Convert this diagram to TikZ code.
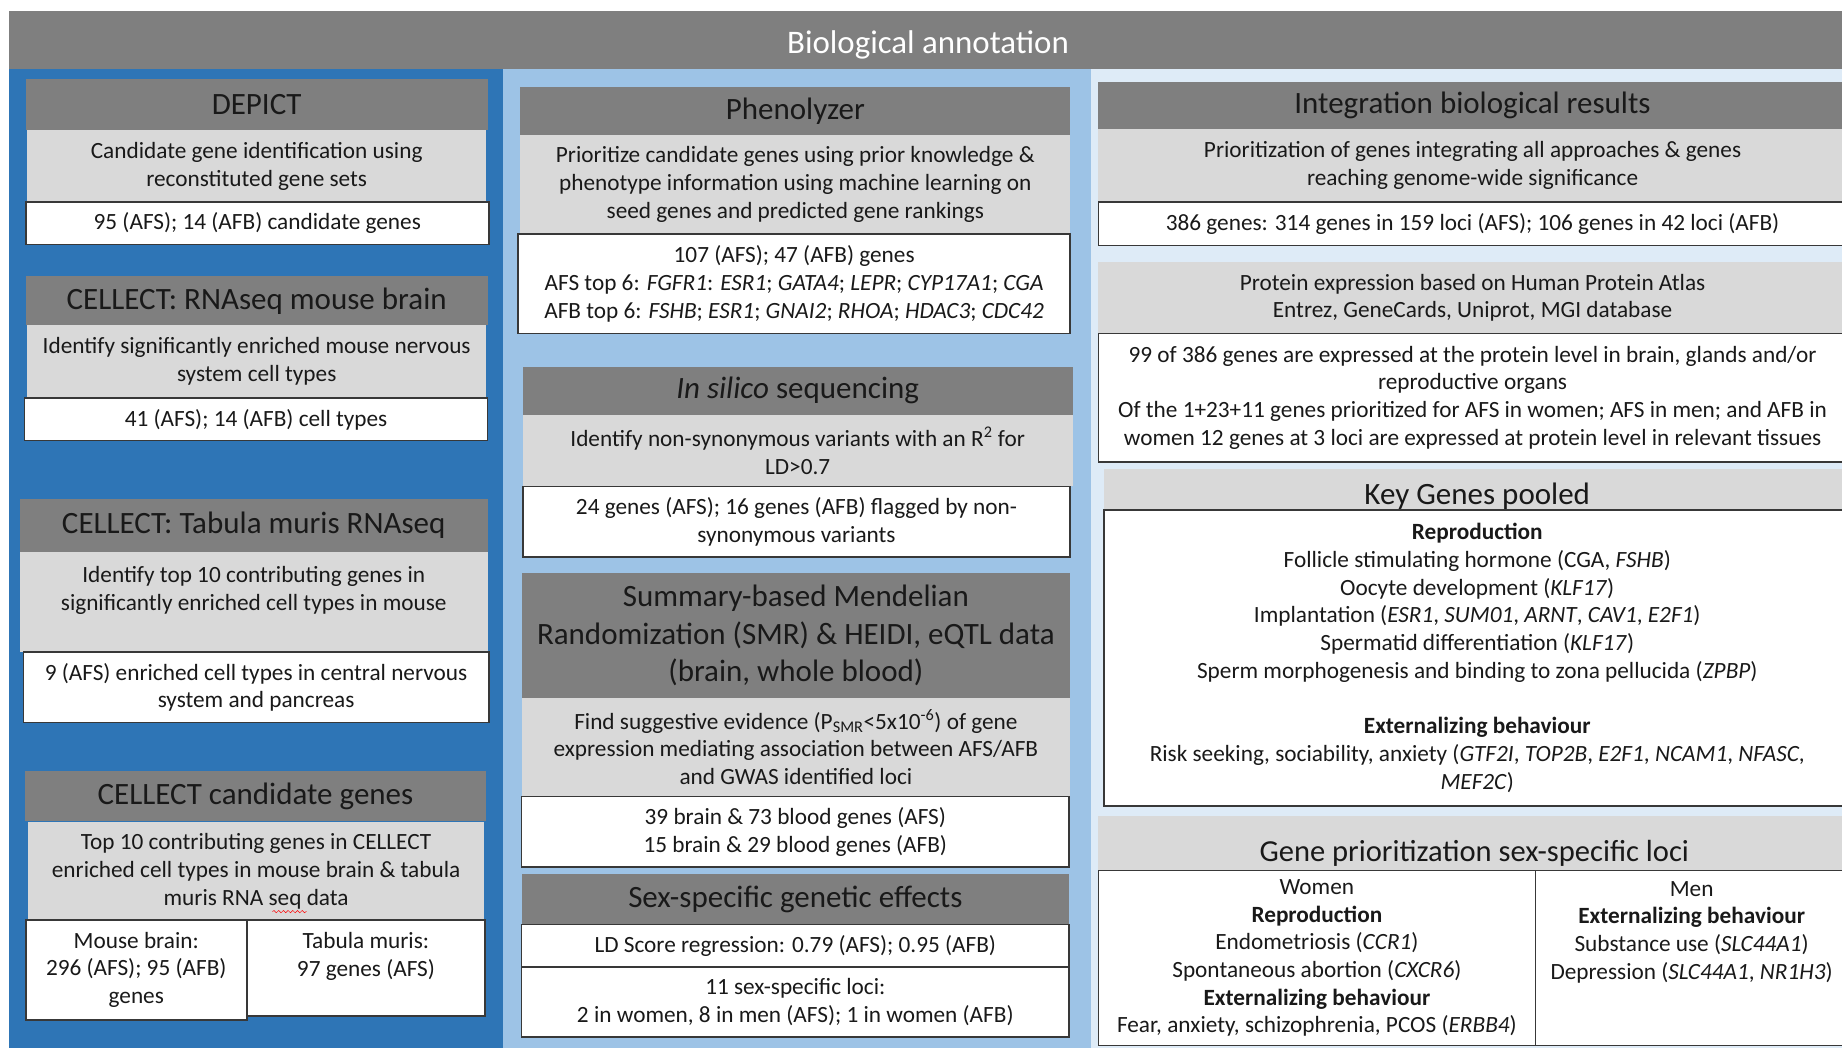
\documentclass[tikz,border=0pt]{standalone}
\usepackage{fontspec}
\setmainfont{Carlito}
\usepackage{tikz}
\usetikzlibrary{decorations.pathmorphing}
\definecolor{leftblue}{HTML}{2E75B6}
\definecolor{midblue}{HTML}{9DC3E6}
\definecolor{paleblue}{HTML}{DEEBF7}
\definecolor{hdrgray}{HTML}{7F7F7F}
\definecolor{infogray}{HTML}{D9D9D9}
\definecolor{edgegray}{HTML}{383838}
\tikzset{
  every node/.style={inner sep=0pt, align=center, text=black!90, font=\fontsize{19.8}{23.6}\selectfont},
  headbox/.style={fill=hdrgray, font=\fontsize{26.4}{32}\selectfont},
  infobox/.style={fill=infogray},
  resultbox/.style={fill=white, draw=edgegray, line width=1.4pt},
  size/.style 2 args={minimum width=#1pt, minimum height=#2pt},
}

\begin{document}
\begin{tikzpicture}[x=1pt,y=-1pt]
                   \useasboundingbox (0,0) rectangle (1568,892);
                   \clip (0,0) rectangle (1568,892);
                   % background bands
                   \fill[hdrgray] (7.4,9.4) rectangle (1568,58.7);
                   \fill[leftblue] (7.4,58.7) rectangle (428,892);
                   \fill[midblue] (428,58.7) rectangle (928.5,892);
                   \fill[paleblue] (928.5,58.7) rectangle (1568,892);
                   \node[text=white, font=\fontsize{28}{34}\selectfont] (title) at (790,38.5) {Biological annotation};

                   % left column
                   \node[headbox, size={393}{44}] (depict) at (218.5,89) {DEPICT};
                   \node[infobox, size={391}{61}] (depict_info) at (218.5,141.5) {Candidate gene identification using\\reconstituted gene sets};
                   \node[resultbox, size={394}{36}] (depict_res) at (219,190) {95 (AFS); 14 (AFB) candidate genes};

                   \node[headbox, size={393}{42}] (brain) at (218.5,256) {CELLECT: RNAseq mouse brain};
                   \node[infobox, size={391}{61}] (brain_info) at (218.5,307.5) {Identify significantly enriched mouse nervous\\system cell types};
                   \node[resultbox, size={394}{36}] (brain_res) at (218,357) {41 (AFS); 14 (AFB) cell types};

                   \node[headbox, size={398}{45}] (tabula) at (216,447.5) {CELLECT: Tabula muris RNAseq};
                   \node[infobox, size={398}{85}] (tabula_info) at (216,512.5) {Identify top 10 contributing genes in\\significantly enriched cell types in mouse\\ \mbox{}};
                   \node[resultbox, size={396}{60}] (tabula_res) at (218,585) {9 (AFS) enriched cell types in central nervous\\system and pancreas};

                   \node[headbox, size={393}{43}] (cand) at (217.5,677.5) {CELLECT candidate genes};
                   \node[infobox, size={388}{83}] (cand_info) at (218,741.5) {Top 10 contributing genes in CELLECT\\enriched cell types in mouse brain \& tabula\\muris RNA seq data};
                   \node[resultbox, size={188}{85}] (cand_brain) at (116,825.5) {Mouse brain:\\296 (AFS); 95 (AFB)\\genes};
                   \node[resultbox, size={203}{82}] (cand_tabula) at (311.5,824) {Tabula muris:\\97 genes (AFS)\\ \mbox{}};
                   \draw[red, decorate, decoration={snake, amplitude=1pt, segment length=4pt}] (232,776) -- (261,776);

                   % middle column
                   \node[headbox, size={468}{41}] (pheno) at (677,94.5) {Phenolyzer};
                   \node[infobox, size={468}{84}] (pheno_info) at (677,157) {Prioritize candidate genes using prior knowledge \&\\phenotype information using machine learning on\\seed genes and predicted gene rankings};
                   \node[resultbox, size={470}{85}] (pheno_res) at (676,241.5) {107 (AFS); 47 (AFB) genes\\AFS top 6: \textit{FGFR1}: \textit{ESR1}; \textit{GATA4}; \textit{LEPR}; \textit{CYP17A1}; \textit{CGA}\\AFB top 6: \textit{FSHB}; \textit{ESR1}; \textit{GNAI2}; \textit{RHOA}; \textit{HDAC3}; \textit{CDC42}};

                   \node[headbox, size={468}{41}] (silico) at (679,332.5) {\textit{In silico} sequencing};
                   \node[infobox, size={468}{61}] (silico_info) at (679,383.5) {Identify non-synonymous variants with an R\textsuperscript{2} for\\LD>0.7};
                   \node[resultbox, size={466}{60}] (silico_res) at (678,444) {24 genes (AFS); 16 genes (AFB) flagged by non-\\synonymous variants};

                   \node[headbox, size={467}{106}] (smr) at (677.5,541) {Summary-based Mendelian\\Randomization (SMR) \& HEIDI, eQTL data\\(brain, whole blood)};
                   \node[infobox, size={467}{84}] (smr_info) at (677.5,636) {Find suggestive evidence (P\textsubscript{SMR}<5x10\textsuperscript{-6}) of gene\\expression mediating association between AFS/AFB\\and GWAS identified loci};
                   \node[resultbox, size={466}{60}] (smr_res) at (677,708) {39 brain \& 73 blood genes (AFS)\\15 brain \& 29 blood genes (AFB)};

                   \node[headbox, size={466}{43}] (sex) at (677,765.5) {Sex-specific genetic effects};
                   \node[resultbox, size={466}{36}] (sex_ldsc) at (677,805) {LD Score regression: 0.79 (AFS); 0.95 (AFB)};
                   \node[resultbox, size={466}{60}] (sex_loci) at (677,853) {11 sex-specific loci:\\2 in women, 8 in men (AFS); 1 in women (AFB)};

                   % right column
                   \node[headbox, size={637}{40}] (integ) at (1253.5,90) {Integration biological results};
                   \node[infobox, size={637}{62}] (integ_info) at (1253.5,141) {Prioritization of genes integrating all approaches \& genes\\reaching genome-wide significance};
                   \node[resultbox, size={637}{37}] (integ_res) at (1253.5,190.5) {386 genes: 314 genes in 159 loci (AFS); 106 genes in 42 loci (AFB)};

                   \node[infobox, size={637}{61}] (protein_info) at (1253.5,253.5) {Protein expression based on Human Protein Atlas\\Entrez, GeneCards, Uniprot, MGI database};
                   \node[resultbox, size={637}{109}] (protein_res) at (1253.5,338.5) {99 of 386 genes are expressed at the protein level in brain, glands and/or\\reproductive organs\\Of the 1+23+11 genes prioritized for AFS in women; AFS in men; and AFB in\\women 12 genes at 3 loci are expressed at protein level in relevant tissues};

                   \node[infobox, size={635}{35}, text height=25.6pt, text depth=0pt, font=\fontsize{26.4}{32}\selectfont] (keygenes) at (1257.5,416.5) {Key Genes pooled};
                   \node[resultbox, size={635}{252}] (keygenes_res) at (1257.5,560) {\textbf{Reproduction}\\Follicle stimulating hormone (CGA, \textit{FSHB})\\Oocyte development (\textit{KLF17})\\Implantation (\textit{ESR1}, \textit{SUM01}, \textit{ARNT}, \textit{CAV1}, \textit{E2F1})\\Spermatid differentiation (\textit{KLF17})\\Sperm morphogenesis and binding to zona pellucida (\textit{ZPBP})\\ \mbox{}\\\textbf{Externalizing behaviour}\\Risk seeking, sociability, anxiety (\textit{GTF2I}, \textit{TOP2B}, \textit{E2F1}, \textit{NCAM1}, \textit{NFASC},\\\textit{MEF2C})};

                   \node[infobox, size={640}{46}, text height=31pt, text depth=0pt, font=\fontsize{26}{32}\selectfont] (sexloci) at (1255,718) {Gene prioritization sex-specific loci};
                   \node[resultbox, size={372}{149}] (women) at (1121,815.5) {Women\\\textbf{Reproduction}\\Endometriosis (\textit{CCR1})\\Spontaneous abortion (\textit{CXCR6})\\\textbf{Externalizing behaviour}\\Fear, anxiety, schizophrenia, PCOS (\textit{ERBB4})};
                   \node[resultbox, size={266}{149}] (men) at (1440,815.5) {Men\\\textbf{Externalizing behaviour}\\Substance use (\textit{SLC44A1})\\Depression (\textit{SLC44A1}, \textit{NR1H3})\\ \mbox{}\\ \mbox{}};
                \end{tikzpicture}
\end{document}
